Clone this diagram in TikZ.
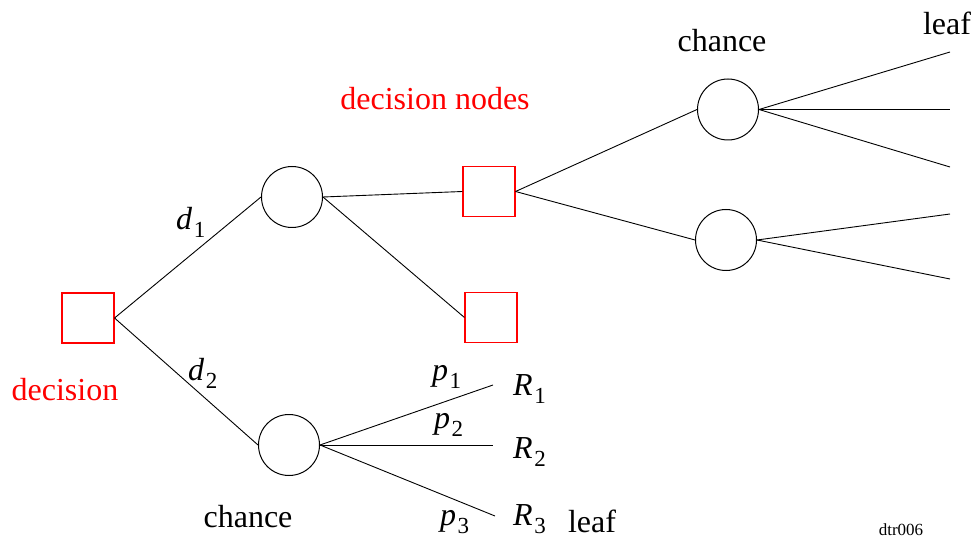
\documentclass[tikz,border=0pt]{standalone}
\usepackage{fontspec}
\setmainfont{Liberation Serif}
\newcommand\isub[2]{\textit{#1}\kern1.5pt\raisebox{-8pt}{\fontsize{23}{23}\selectfont #2}}
\begin{document}
\begin{tikzpicture}[x=1pt,y=-1pt,
  every node/.style={font=\fontsize{32}{34}\selectfont},
  dnode/.style={draw=red,line width=1.1pt,minimum width=52pt,minimum height=50pt,inner sep=0pt},
  cnode/.style={draw=black,circle,line width=1pt,minimum size=61pt,inner sep=0pt},
  branch/.style={draw=black,line width=0.9pt},
  lbl/.style={anchor=base,inner sep=0pt}]
\useasboundingbox (0,0) rectangle (977,537);

% decision and chance nodes
\node[dnode] (root) at (88,318) {};
\node[cnode] (c1) at (292,197) {};
\node[cnode] (c2) at (289,445) {};
\node[dnode] (d1) at (489,191.5) {};
\node[dnode] (d2) at (491,317.5) {};
\node[cnode] (c3) at (728,109.5) {};
\node[cnode] (c4) at (726,240) {};

% free ends of the leaf branches
\coordinate (l1) at (950,52);
\coordinate (l2) at (950,109.5);
\coordinate (l3) at (950,167);
\coordinate (l4) at (950,214);
\coordinate (l5) at (950,279);
\coordinate (r1) at (493,385);
\coordinate (r2) at (493,445);
\coordinate (r3) at (495,516);

% branches
\draw[branch] (root.east) -- (c1.west);
\draw[branch] (root.east) -- (c2.west);
\draw[branch] (c1.east) -- (d1.west);
\draw[branch] (c1.east) -- (d2.west);
\draw[branch] (d1.east) -- (c3.west);
\draw[branch] (d1.east) -- (c4.west);
\draw[branch] (c3.east) -- (l1);
\draw[branch] (c3.east) -- (l2);
\draw[branch] (c3.east) -- (l3);
\draw[branch] (c4.east) -- (l4);
\draw[branch] (c4.east) -- (l5);
\draw[branch] (c2.east) -- (r1);
\draw[branch] (c2.east) -- (r2);
\draw[branch] (c2.east) -- (r3);

% labels
\node[lbl,text=red] (tdec) at (65,400) {decision};
\node[lbl,text=red] (tdn) at (435,110) {decision nodes};
\node[lbl] (tch1) at (248,527) {chance};
\node[lbl] (tch2) at (722,52) {chance};
\node[lbl] (tleaf1) at (947,35) {leaf};
\node[lbl] (tleaf2) at (592,532) {leaf};
\node[lbl,anchor=base west] (td1) at (176,230) {\isub{d}{1}};
\node[lbl,anchor=base west] (td2) at (188,380) {\isub{d}{2}};
\node[lbl,anchor=base west] (tp1) at (432,380) {\isub{p}{1}};
\node[lbl,anchor=base west] (tp2) at (434,428) {\isub{p}{2}};
\node[lbl,anchor=base west] (tp3) at (440,525) {\isub{p}{3}};
\node[lbl,anchor=base west] (tr1) at (513,395) {\isub{R}{1}};
\node[lbl,anchor=base west] (tr2) at (513,458) {\isub{R}{2}};
\node[lbl,anchor=base west] (tr3) at (513,525) {\isub{R}{3}};
\node[lbl,font=\fontsize{17}{18}\selectfont] (tid) at (901,535) {dtr006};
\end{tikzpicture}
\end{document}
